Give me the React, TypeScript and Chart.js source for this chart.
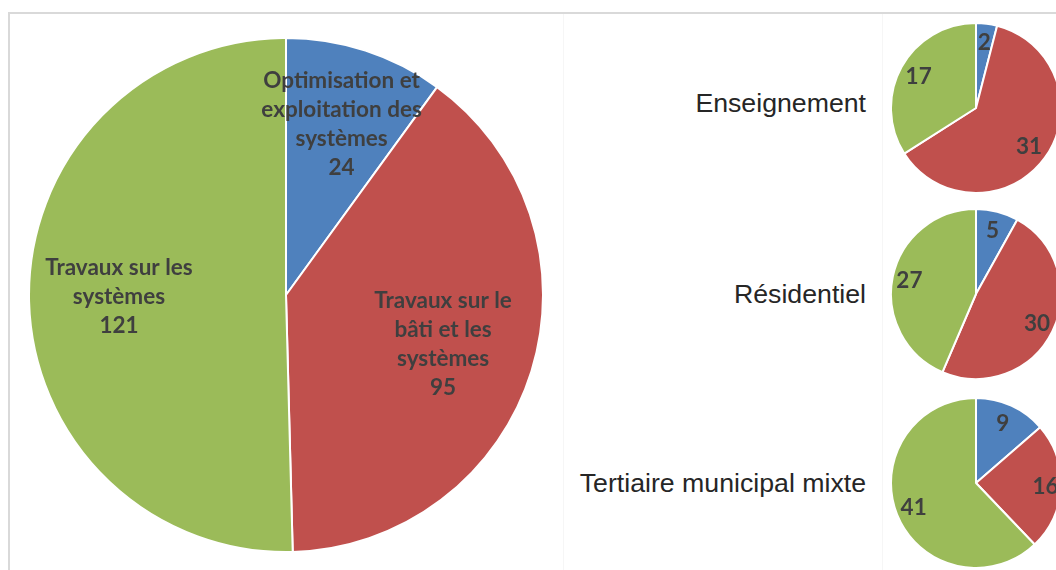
import React, { useEffect, useRef } from "react";
import { Chart, registerables } from "chart.js";

Chart.register(...registerables);

// ---------- data ----------
const sliceColors = ["#4F81BD", "#C0504D", "#9BBB59"];

const mainCategories = [
  "Optimisation et exploitation des systèmes",
  "Travaux sur le bâti et les systèmes",
  "Travaux sur les systèmes",
];
const mainValues = [24, 95, 121];
const mainLabelLines = [
  ["Optimisation et", "exploitation des", "systèmes"],
  ["Travaux sur le", "bâti et les", "systèmes"],
  ["Travaux sur les", "systèmes"],
];

const sectorNames = ["Enseignement", "Résidentiel", "Tertiaire municipal mixte"];
const enseignementValues = [2, 31, 17];
const residentielValues = [5, 30, 27];
const tertiaireValues = [9, 16, 41];

// ---------- styling ----------
const LABEL_FONT = "bold 22.5px Lato, 'Open Sans', sans-serif";
const LABEL_COLOR = "#3f3f3f";

type PieProps = {
  values: number[];
  labels: string[];
  lines?: string[][];
  fractions: number[];
  size: number;
  left: number;
  top: number;
  borderWidth: number;
  lineHeight: number;
};

function makeLabelPlugin(cfg: { lines?: string[][]; fractions: number[]; lineHeight: number }) {
  return {
    id: "sliceLabels",
    afterDatasetsDraw(chart: any) {
      const ctx = chart.ctx;
      const meta = chart.getDatasetMeta(0);
      const ds = chart.data.datasets[0];
      ctx.save();
      ctx.font = LABEL_FONT;
      ctx.fillStyle = LABEL_COLOR;
      ctx.textAlign = "center";
      ctx.textBaseline = "middle";
      meta.data.forEach((arc: any, i: number) => {
        const { x, y, startAngle, endAngle, outerRadius } = arc.getProps(
          ["x", "y", "startAngle", "endAngle", "outerRadius"],
          true
        );
        const mid = (startAngle + endAngle) / 2;
        const r = outerRadius * cfg.fractions[i];
        const cx = x + Math.cos(mid) * r;
        const cy = y + Math.sin(mid) * r;
        const lines = [...(cfg.lines ? cfg.lines[i] : []), String(ds.data[i])];
        lines.forEach((t, k) => {
          ctx.fillText(t, cx, cy + (k - (lines.length - 1) / 2) * cfg.lineHeight);
        });
      });
      ctx.restore();
    },
  };
}

function Pie(props: PieProps) {
  const ref = useRef<HTMLCanvasElement | null>(null);
  useEffect(() => {
    if (!ref.current) return;
    const chart = new Chart(ref.current, {
      type: "pie",
      data: {
        labels: props.labels,
        datasets: [
          {
            data: props.values,
            backgroundColor: sliceColors,
            borderColor: "#ffffff",
            borderWidth: props.borderWidth,
          },
        ],
      },
      options: {
        responsive: false,
        maintainAspectRatio: false,
        animation: false,
        layout: { padding: 0 },
        events: [],
        plugins: {
          legend: { display: false },
          tooltip: { enabled: false },
        },
      },
      plugins: [
        makeLabelPlugin({
          lines: props.lines,
          fractions: props.fractions,
          lineHeight: props.lineHeight,
        }),
      ],
    });
    let alive = true;
    if ((document as any).fonts && (document as any).fonts.ready) {
      (document as any).fonts.ready.then(() => {
        if (alive) chart.draw();
      });
    }
    return () => {
      alive = false;
      chart.destroy();
    };
  }, []);
  return (
    <canvas
      ref={ref}
      width={props.size}
      height={props.size}
      style={{
        position: "absolute",
        left: props.left,
        top: props.top,
        width: props.size,
        height: props.size,
      }}
    />
  );
}

const sectorTextStyle: React.CSSProperties = {
  position: "absolute",
  right: 1056 - 866,
  fontFamily: "'Liberation Sans', Arial, sans-serif",
  fontSize: 26.7,
  lineHeight: "27px",
  color: "#262626",
  whiteSpace: "nowrap",
};

export default function App() {
  return (
    <div
      style={{
        position: "absolute",
        left: 0,
        top: 0,
        width: 1056,
        height: 570,
        overflow: "hidden",
        background: "#ffffff",
      }}
    >
      {/* frame lines */}
      <div style={{ position: "absolute", left: 8, top: 12, width: 1048, height: 2, background: "#d9d9d9" }} />
      <div style={{ position: "absolute", left: 8, top: 12, width: 2, height: 558, background: "#d9d9d9" }} />
      <div style={{ position: "absolute", left: 563, top: 14, width: 1, height: 556, background: "#f6f6f6" }} />
      <div style={{ position: "absolute", left: 882, top: 14, width: 1, height: 556, background: "#f6f6f6" }} />

      <Pie
        values={mainValues}
        labels={mainCategories}
        lines={mainLabelLines}
        fractions={[0.7, 0.64, 0.65]}
        size={516}
        left={28}
        top={37}
        borderWidth={2}
        lineHeight={29}
      />

      <div style={{ ...sectorTextStyle, top: 90 }}>{sectorNames[0]}</div>
      <div style={{ ...sectorTextStyle, top: 281 }}>{sectorNames[1]}</div>
      <div style={{ ...sectorTextStyle, top: 470 }}>{sectorNames[2]}</div>

      <Pie
        values={enseignementValues}
        labels={mainCategories}
        fractions={[0.77, 0.77, 0.77]}
        size={172}
        left={890}
        top={22}
        borderWidth={2}
        lineHeight={24}
      />
      <Pie
        values={residentielValues}
        labels={mainCategories}
        fractions={[0.77, 0.8, 0.8]}
        size={172}
        left={890}
        top={208}
        borderWidth={2}
        lineHeight={24}
      />
      <Pie
        values={tertiaireValues}
        labels={mainCategories}
        fractions={[0.76, 0.82, 0.79]}
        size={172}
        left={890}
        top={397}
        borderWidth={2}
        lineHeight={24}
      />
    </div>
  );
}
